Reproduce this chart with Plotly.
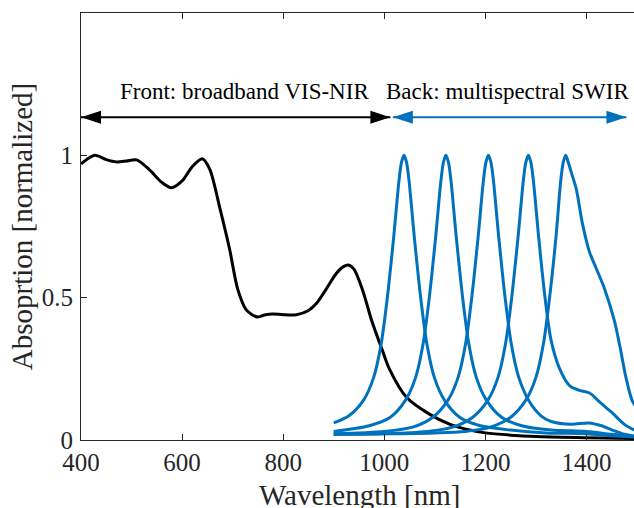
import plotly.graph_objects as go

# ---------------- data ----------------
BLACK_WL = [400, 427, 450, 470, 490, 510, 535, 560, 579, 600, 620, 640, 655, 674, 694, 710, 727,
            749, 765, 779, 800, 826, 850, 866, 885, 905, 920, 929, 940, 957, 975, 996, 1010, 1044,
            1090, 1130, 1169, 1200, 1250, 1300, 1400, 1500]
BLACK_ABS = [0.97, 1.0, 0.985, 0.977, 0.98, 0.984, 0.95, 0.905, 0.886, 0.91, 0.96, 0.988, 0.95,
             0.82, 0.67, 0.53, 0.457, 0.432, 0.44, 0.443, 0.44, 0.44, 0.455, 0.48, 0.53, 0.585,
             0.61, 0.615, 0.60, 0.527, 0.42, 0.316, 0.25, 0.15, 0.09, 0.055, 0.035, 0.025, 0.017,
             0.012, 0.008, 0.005]

P1_WL = [900, 930, 959, 979, 994, 1006, 1019, 1029, 1034, 1039, 1044, 1049, 1059, 1072, 1084,
         1099, 1119, 1149, 1190, 1250, 1320, 1400, 1450, 1500]
P1_ABS = [0.06, 0.085, 0.14, 0.22, 0.34, 0.5, 0.72, 0.91, 0.975, 1.0, 0.975, 0.91, 0.72, 0.5,
          0.34, 0.22, 0.14, 0.08, 0.05, 0.035, 0.025, 0.022, 0.015, 0.01]

P2_WL = [900, 970, 1012, 1042, 1062, 1077, 1089, 1102, 1112, 1117, 1122, 1127, 1132, 1142, 1155,
         1167, 1182, 1202, 1232, 1272, 1330, 1400, 1450, 1500]
P2_ABS = [0.03, 0.05, 0.08, 0.14, 0.22, 0.34, 0.5, 0.72, 0.91, 0.975, 1.0, 0.975, 0.91, 0.72,
          0.5, 0.34, 0.22, 0.14, 0.08, 0.05, 0.035, 0.03, 0.02, 0.012]

P3_WL = [900, 1000, 1056, 1096, 1126, 1146, 1161, 1173, 1186, 1196, 1201, 1206, 1211, 1216, 1226,
         1239, 1251, 1266, 1287, 1310, 1330, 1370, 1405, 1430, 1451, 1475, 1500]
P3_ABS = [0.022, 0.03, 0.045, 0.08, 0.14, 0.22, 0.34, 0.5, 0.72, 0.91, 0.975, 1.0, 0.975, 0.91,
          0.72, 0.5, 0.34, 0.22, 0.135, 0.085, 0.065, 0.055, 0.06, 0.05, 0.035, 0.02, 0.012]

P4_WL = [900, 1000, 1085, 1135, 1175, 1205, 1225, 1240, 1252, 1265, 1275, 1280, 1285, 1290, 1295,
         1305, 1318, 1330, 1347, 1367, 1385, 1406, 1428, 1451, 1475, 1500]
P4_ABS = [0.02, 0.022, 0.03, 0.045, 0.08, 0.14, 0.22, 0.34, 0.5, 0.72, 0.91, 0.975, 1.0, 0.975,
          0.91, 0.72, 0.5, 0.35, 0.25, 0.19, 0.175, 0.165, 0.13, 0.095, 0.055, 0.03]

P5_WL = [900, 1000, 1100, 1160, 1210, 1250, 1280, 1300, 1315, 1327, 1340, 1349, 1354, 1359, 1364,
         1370, 1380, 1392, 1406, 1420, 1436, 1455, 1466, 1478, 1490, 1500]
P5_ABS = [0.02, 0.022, 0.025, 0.03, 0.045, 0.08, 0.14, 0.22, 0.34, 0.5, 0.72, 0.91, 0.975, 1.0,
          0.975, 0.94, 0.88, 0.76, 0.66, 0.6, 0.53, 0.42, 0.33, 0.22, 0.14, 0.11]

PEAKS = [(P1_WL, P1_ABS), (P2_WL, P2_ABS), (P3_WL, P3_ABS), (P4_WL, P4_ABS), (P5_WL, P5_ABS)]

X_TICKS = [400, 600, 800, 1000, 1200, 1400]
Y_TICKS = [0, 0.5, 1]
Y_TICKTEXT = ["0", "0.5", "1"]

FRONT_ARROW_X = [400, 1012]
BACK_ARROW_X = [1017, 1479]
ARROW_Y = 1.134
FRONT_LABEL = "Front: broadband VIS-NIR"
BACK_LABEL = "Back: multispectral SWIR"
FRONT_LABEL_X = 724
BACK_LABEL_X = 1243
LABEL_Y = 1.226
X_TITLE = "Wavelength [nm]"
Y_TITLE = "Absoprtion [normalized]"

BLACK = "#000000"
BLUE = "#0072BD"
AXC = "#262626"
FONT = "'Liberation Serif', 'Times New Roman', Times, serif"

fig = go.Figure()

fig.add_trace(go.Scatter(x=BLACK_WL, y=BLACK_ABS, mode="lines",
                         line=dict(color=BLACK, width=3, shape="spline", smoothing=0.8),
                         showlegend=False))
for wl, ab in PEAKS:
    fig.add_trace(go.Scatter(x=wl, y=ab, mode="lines",
                             line=dict(color=BLUE, width=3, shape="spline", smoothing=0.8),
                             showlegend=False))

# double-headed arrows
for xs, col in [(FRONT_ARROW_X, BLACK), (BACK_ARROW_X, BLUE)]:
    fig.add_trace(go.Scatter(x=xs, y=[ARROW_Y, ARROW_Y], mode="lines+markers",
                             line=dict(color=col, width=2),
                             marker=dict(symbol="arrow", size=21, angle=[-90, 90], color=col,
                                         line=dict(width=0)),
                             cliponaxis=False, showlegend=False))

fig.add_annotation(x=FRONT_LABEL_X, y=LABEL_Y, text=FRONT_LABEL, showarrow=False,
                   xanchor="center", yanchor="middle",
                   font=dict(family=FONT, size=23, color="#000000"))
fig.add_annotation(x=BACK_LABEL_X, y=LABEL_Y, text=BACK_LABEL, showarrow=False,
                   xanchor="center", yanchor="middle",
                   font=dict(family=FONT, size=23, color="#000000"))
# x-axis title (placed slightly lower than Plotly's default, as in the reference)
fig.add_annotation(x=0.503, y=-0.129, xref="paper", yref="paper", text=X_TITLE,
                   showarrow=False, xanchor="center", yanchor="middle",
                   font=dict(family=FONT, size=29, color=AXC))

fig.update_layout(
    width=634, height=508,
    margin=dict(l=81, r=0, t=13, b=68),
    paper_bgcolor="white", plot_bgcolor="white",
    font=dict(family=FONT, color=AXC),
    showlegend=False,
)
fig.update_xaxes(range=[400, 1494], tickvals=X_TICKS, ticks="inside", ticklen=6,
                 tickcolor=AXC, showline=True, linecolor=AXC, linewidth=1, mirror="ticks",
                 showgrid=False, zeroline=False, automargin=False,
                 tickfont=dict(family=FONT, size=25, color=AXC))
fig.update_yaxes(range=[0, 1.5], tickvals=Y_TICKS, ticktext=Y_TICKTEXT, ticks="inside",
                 ticklen=6, tickcolor=AXC, showline=True, linecolor=AXC, linewidth=1,
                 mirror=False, showgrid=False, zeroline=False, ticklabelstandoff=2,
                 automargin=False,
                 tickfont=dict(family=FONT, size=25, color=AXC),
                 title=dict(text=Y_TITLE, font=dict(family=FONT, size=29, color=AXC),
                            standoff=0))

fig.write_html("out.html")
